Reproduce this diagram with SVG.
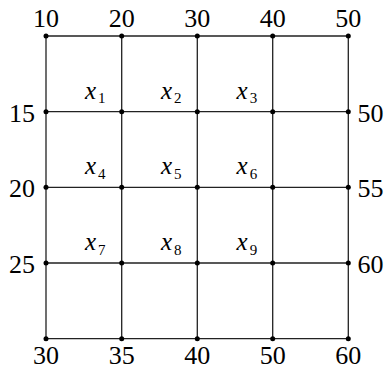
<svg xmlns="http://www.w3.org/2000/svg" width="388" height="370" viewBox="0 0 388 370">
<defs>
<style>
.l{stroke:#222;stroke-width:1.3;fill:none}
.sub{font-style:normal;font-size:15px}
</style>
</defs>
<g id="connectors">
<path class="l" d="M46 36H348.3M46 111.7H348.3M46 187.3H348.3M46 263H348.3M46 338.7H348.3M46 36V338.7M121.7 36V338.7M197.3 36V338.7M272.7 36V338.7M348.3 36V338.7"/>
</g>
<g id="dots" fill="#000">
<circle cx="46" cy="36" r="2.5"/><circle cx="121.7" cy="36" r="2.5"/><circle cx="197.3" cy="36" r="2.5"/><circle cx="272.7" cy="36" r="2.5"/><circle cx="348.3" cy="36" r="2.5"/>
<circle cx="46" cy="111.7" r="2.5"/><circle cx="121.7" cy="111.7" r="2.5"/><circle cx="197.3" cy="111.7" r="2.5"/><circle cx="272.7" cy="111.7" r="2.5"/><circle cx="348.3" cy="111.7" r="2.5"/>
<circle cx="46" cy="187.3" r="2.5"/><circle cx="121.7" cy="187.3" r="2.5"/><circle cx="197.3" cy="187.3" r="2.5"/><circle cx="272.7" cy="187.3" r="2.5"/><circle cx="348.3" cy="187.3" r="2.5"/>
<circle cx="46" cy="263" r="2.5"/><circle cx="121.7" cy="263" r="2.5"/><circle cx="197.3" cy="263" r="2.5"/><circle cx="272.7" cy="263" r="2.5"/><circle cx="348.3" cy="263" r="2.5"/>
<circle cx="46" cy="338.7" r="2.5"/><circle cx="121.7" cy="338.7" r="2.5"/><circle cx="197.3" cy="338.7" r="2.5"/><circle cx="272.7" cy="338.7" r="2.5"/><circle cx="348.3" cy="338.7" r="2.5"/>
</g>
<g id="labels" font-family="'Liberation Serif', 'Times New Roman', serif" font-size="26" fill="#000">
<g id="top-labels" text-anchor="middle">
<text x="46" y="27.3">10</text><text x="121.7" y="27.3">20</text><text x="197.3" y="27.3">30</text><text x="272.7" y="27.3">40</text><text x="348.3" y="27.3">50</text>
</g>
<g id="bottom-labels" text-anchor="middle">
<text x="46" y="364">30</text><text x="121.7" y="364">35</text><text x="197.3" y="364">40</text><text x="272.7" y="364">50</text><text x="348.3" y="364">60</text>
</g>
<g id="left-labels" text-anchor="end">
<text x="35" y="121.5">15</text><text x="35" y="197.1">20</text><text x="35" y="272.8">25</text>
</g>
<g id="right-labels">
<text x="357.5" y="121.5">50</text><text x="357.5" y="197.1">55</text><text x="357.5" y="272.8">60</text>
</g>
<g id="vars" font-style="italic" font-size="25">
<g id="x1"><text x="85" y="98.5">x<tspan class="sub" dx="2" dy="4.8">1</tspan></text></g>
<g id="x2"><text x="161" y="98.5">x<tspan class="sub" dx="2" dy="4.8">2</tspan></text></g>
<g id="x3"><text x="236.6" y="98.5">x<tspan class="sub" dx="2" dy="4.8">3</tspan></text></g>
<g id="x4"><text x="85" y="174.1">x<tspan class="sub" dx="2" dy="4.8">4</tspan></text></g>
<g id="x5"><text x="161" y="174.1">x<tspan class="sub" dx="2" dy="4.8">5</tspan></text></g>
<g id="x6"><text x="236.6" y="174.1">x<tspan class="sub" dx="2" dy="4.8">6</tspan></text></g>
<g id="x7"><text x="85" y="249.8">x<tspan class="sub" dx="2" dy="4.8">7</tspan></text></g>
<g id="x8"><text x="161" y="249.8">x<tspan class="sub" dx="2" dy="4.8">8</tspan></text></g>
<g id="x9"><text x="236.6" y="249.8">x<tspan class="sub" dx="2" dy="4.8">9</tspan></text></g>
</g>
</g>
</svg>
